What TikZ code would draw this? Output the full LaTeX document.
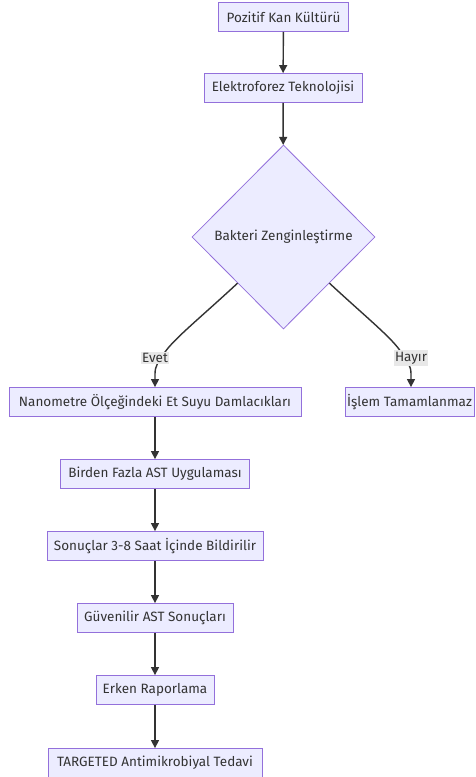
\documentclass[tikz,border=0pt]{standalone}
\usepackage{fontspec}
\setmainfont{Fira Sans}
\usetikzlibrary{shapes.geometric,arrows.meta,calc}
\definecolor{boxfill}{HTML}{ECECFF}
\definecolor{boxline}{HTML}{9370DB}
\definecolor{edgeline}{HTML}{333333}
\definecolor{lblfill}{HTML}{E8E8E8}
\begin{document}
\begin{tikzpicture}[x=1pt,y=-1pt,
  font=\fontsize{13.5}{16}\selectfont,
  process/.style={draw=boxline,fill=boxfill,line width=0.8pt,text=edgeline,
    minimum height=29pt,inner sep=0pt},
  decision/.style={diamond,draw=boxline,fill=boxfill,line width=0.8pt,text=edgeline,
    minimum width=183pt,minimum height=184pt,inner sep=0pt},
  flow/.style={draw=edgeline,line width=1.4pt,-{Triangle[length=8pt,width=8pt]}},
  lbl/.style={fill=lblfill,text=edgeline,inner sep=1.5pt}]
\useasboundingbox (0,0) rectangle (476,777);
\fill[white] (0,0) rectangle (476,777);

\node[process,minimum width=130pt] (kan) at (283.5,17) {Pozitif Kan Kültürü};
\node[process,minimum width=158pt] (elek) at (283,88) {Elektroforez Teknolojisi};
\node[decision] (zen) at (283.5,237) {Bakteri Zenginleştirme};
\node[process,minimum width=292pt] (nano) at (155,402) {Nanometre Ölçeğindeki Et Suyu Damlacıkları};
\node[process,minimum width=129pt] (islem) at (409.5,402) {İşlem Tamamlanmaz};
\node[process,minimum width=189pt] (ast) at (155,474) {Birden Fazla AST Uygulaması};
\node[process,minimum width=216pt] (sonuc) at (155,546) {Sonuçlar 3-8 Saat İçinde Bildirilir};
\node[process,minimum width=156pt] (guven) at (155,618) {Güvenilir AST Sonuçları};
\node[process,minimum width=118pt] (erken) at (155,690) {Erken Raporlama};
\node[process,minimum width=214pt] (hedef) at (155,763) {TARGETED Antimikrobiyal Tedavi};

% branch points on the lower edges of the decision
\coordinate (zl) at ($(zen.south)!0.5!(zen.west)$);
\coordinate (zr) at ($(zen.south)!0.5!(zen.east)$);

\draw[flow] (kan) -- (elek);
\draw[flow] (elek) -- (zen);
\draw[flow] (zl) .. controls (200,318) and (175,338) .. (165,352)
  .. controls (158,362) and (155,366) .. (155,374) -- (nano.north -| 155,0);
\draw[flow] (zr) .. controls (367,318) and (392,338) .. (401,352)
  .. controls (408,362) and (411,366) .. (411,374) -- (islem.north -| 411,0);
\draw[flow] (nano) -- (ast);
\draw[flow] (ast) -- (sonuc);
\draw[flow] (sonuc) -- (guven);
\draw[flow] (guven) -- (erken);
\draw[flow] (erken) -- (hedef);

\node[lbl] (evet) at (155,358) {Evet};
\node[lbl] (hayir) at (411,358) {Hayır};
\end{tikzpicture}
\end{document}
